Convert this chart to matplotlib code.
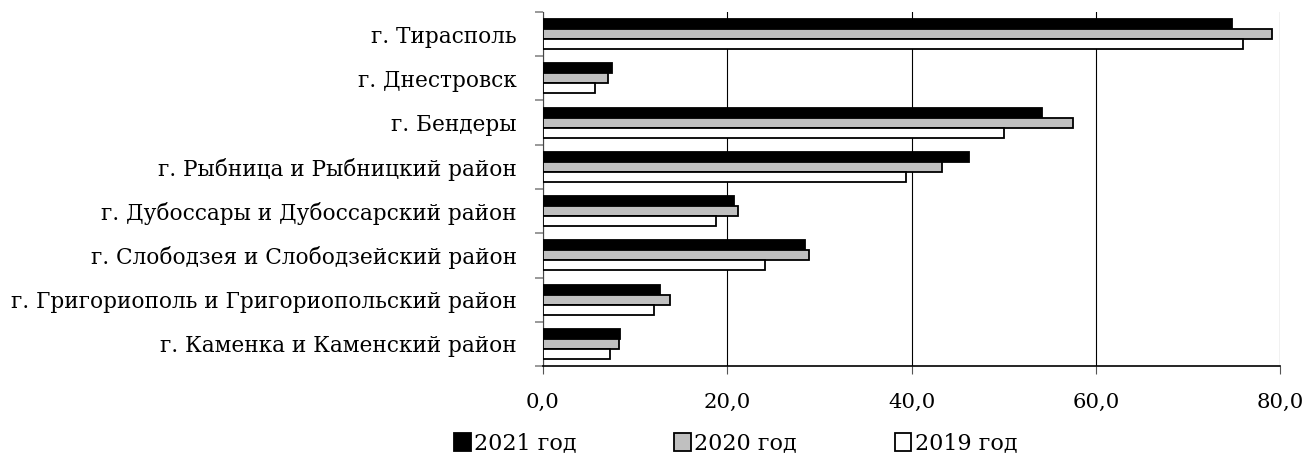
import matplotlib.pyplot as plt
import numpy as np
from matplotlib.ticker import FixedLocator, FuncFormatter

plt.rcParams['font.family'] = ['DejaVu Serif']
plt.rcParams['font.size'] = 14

regions = ['г. Тирасполь', 'г. Днестровск', 'г. Бендеры',
           'г. Рыбница и Рыбницкий район', 'г. Дубоссары и Дубоссарский район',
           'г. Слободзея и Слободзейский район',
           'г. Григориополь и Григориопольский район',
           'г. Каменка и Каменский район']
v2021 = [74.8, 7.5, 54.1, 46.2, 20.7, 28.4, 12.7, 8.4]
v2020 = [79.1, 7.1, 57.5, 43.3, 21.2, 28.9, 13.8, 8.3]
v2019 = [75.9, 5.6, 50.0, 39.4, 18.8, 24.1, 12.0, 7.3]
years = ['2021 год', '2020 год', '2019 год']
xticks = [0, 20, 40, 60, 80]

fig = plt.figure(figsize=(13.04, 4.61), dpi=100)
ax = fig.add_axes([0.4164, 0.206, 0.5655, 0.768])

n = len(regions)
pos = np.arange(n)[::-1]
h = 0.225
series = [(v2021, 'black'), (v2020, '#c0c0c0'), (v2019, 'white')]
for k, (vals, col) in enumerate(series):
    ax.barh(pos + h * (1 - k), vals, height=h, color=col, edgecolor='black',
            linewidth=1.3, label=years[k], zorder=3)

ax.set_xlim(0, 80)
ax.set_ylim(-0.5, n - 0.5)
ax.set_xticks(xticks)
ax.xaxis.set_major_formatter(FuncFormatter(lambda v, p: '{:.1f}'.format(v).replace('.', ',')))
ax.tick_params(axis='x', length=6, width=0.8, color='#555555', pad=13, labelsize=15.3)
ax.grid(axis='x', color='black', linewidth=0.8, zorder=0)

ax.set_yticks(pos)
ax.set_yticklabels(regions)
ax.tick_params(axis='y', length=0, pad=19, labelsize=15.6)
ax.yaxis.set_minor_locator(FixedLocator(np.arange(n + 1) - 0.5))
ax.tick_params(axis='y', which='minor', length=6, width=1.2, color='#888888')

for s in ['top', 'right']:
    ax.spines[s].set_visible(False)
ax.spines['left'].set_color('#444444')
ax.spines['bottom'].set_linewidth(1.2)

handles, labels = ax.get_legend_handles_labels()
fig.legend(handles, labels, loc='center', bbox_to_anchor=(0.564, 0.038), ncol=3,
           frameon=False, fontsize=16, handlelength=0.75, handleheight=0.85,
           handletextpad=0.15, columnspacing=4.4)

plt.savefig('out.png', dpi=100)
